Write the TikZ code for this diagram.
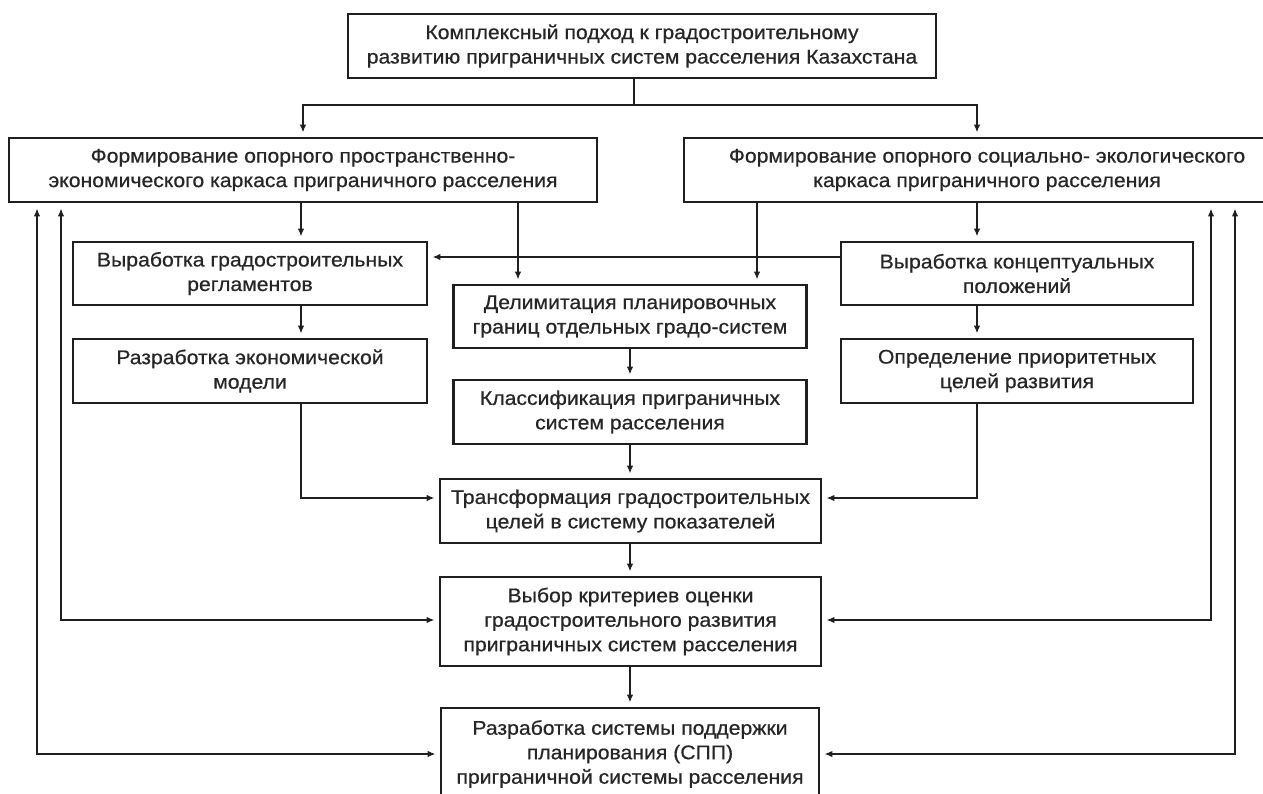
\documentclass[tikz,border=0pt]{standalone}
\usepackage{fontspec}
\setmainfont{Liberation Sans}[FakeStretch=1.07,FakeBold=0.6]
\usetikzlibrary{arrows.meta,calc}
\begin{document}
\begin{tikzpicture}[x=1pt,y=-1pt,
 box/.style={draw=black!88,line width=2.8pt,inner sep=0pt,align=center,
   font=\fontsize{19.8}{24.5}\selectfont,text=black!85},
 plain/.style={line width=2.3pt,draw=black!88},
 conn/.style={plain,-{Latex[length=8pt,width=6.5pt]},shorten >=4pt},
 fb/.style={plain,{Latex[length=8pt,width=6.5pt]}-{Latex[length=8pt,width=6.5pt]},shorten >=4pt,shorten <=5pt}]
\useasboundingbox (0,0) rectangle (1263,793);
\clip (0,0) rectangle (1263,793);
% boxes
\node[box,minimum width=588,minimum height=64] (top) at (642,46)
  {Комплексный подход к градостроительному\\развитию приграничных систем расселения Казахстана};
\node[box,minimum width=588,minimum height=64] (L1) at (303,170)
  {Формирование опорного пространственно-\\экономического каркаса приграничного расселения};
\node[box,minimum width=606,minimum height=64] (R1) at (987,170)
  {Формирование опорного социально- экологического\\каркаса приграничного расселения};
\node[box,minimum width=354,minimum height=63] (L2) at (250,273.5)
  {Выработка градостроительных\\регламентов};
\node[box,minimum width=354,minimum height=64] (L3) at (250,371)
  {Разработка экономической\\модели};
\node[box,minimum width=353,minimum height=63] (M1) at (630,316.5)
  {Делимитация планировочных\\границ отдельных градо-систем};
\node[box,minimum width=353,minimum height=64] (M2) at (630,412)
  {Классификация приграничных\\систем расселения};
\node[box,minimum width=352,minimum height=63] (R2) at (1017,273.5)
  {Выработка концептуальных\\положений};
\node[box,minimum width=352,minimum height=64] (R3) at (1017,371)
  {Определение приоритетных\\целей развития};
\node[box,minimum width=381,minimum height=64] (T) at (630.5,511)
  {Трансформация градостроительных\\целей в систему показателей};
\node[box,minimum width=381,minimum height=89] (V) at (630.5,621.5)
  {Выбор критериев оценки\\градостроительного развития\\приграничных систем расселения};
\node[box,minimum width=378,minimum height=92] (S) at (630,754)
  {Разработка системы поддержки\\планирования (СПП)\\приграничной системы расселения};
% helper coordinates
\coordinate (ja) at (634,105);
\coordinate (xA) at (301,0);
\coordinate (xB) at (518,0);
\coordinate (xC) at (757,0);
\coordinate (xD) at (977,0);
\coordinate (xM) at (630,0);
\coordinate (f1) at (37,0);
\coordinate (f2) at (61,0);
\coordinate (f3) at (1211,0);
\coordinate (f4) at (1235,0);
\coordinate (yh) at (0,257);
\coordinate (yt) at (0,498);
\coordinate (yv) at (0,620);
\coordinate (ys) at (0,754);
% connectors
\draw[plain] (top.south -| ja) -- (ja);
\draw[conn] (ja) -| (L1.north);
\draw[conn] (ja) -| (R1.north -| xD);
\draw[conn] (L1.south -| xA) -- (L2.north -| xA);
\draw[conn] (L1.south -| xB) -- (M1.north -| xB);
\draw[conn] (R1.south -| xC) -- (M1.north -| xC);
\draw[conn] (R1.south -| xD) -- (R2.north -| xD);
\draw[conn] (R2.west |- yh) -- (L2.east |- yh);
\draw[conn] (L2.south -| xA) -- (L3.north -| xA);
\draw[conn] (R2.south -| xD) -- (R3.north -| xD);
\draw[conn] (L3.south -| xA) |- (T.west |- yt);
\draw[conn] (R3.south -| xD) |- (T.east |- yt);
\draw[conn] (M1.south -| xM) -- (M2.north -| xM);
\draw[conn] (M2.south -| xM) -- (T.north -| xM);
\draw[conn] (T.south -| xM) -- (V.north -| xM);
\draw[conn] (V.south -| xM) -- (S.north -| xM);
\draw[fb] (L1.south -| f2) |- (V.west |- yv);
\draw[fb] (L1.south -| f1) |- (S.west |- ys);
\draw[fb] (R1.south -| f3) |- (V.east |- yv);
\draw[fb] (R1.south -| f4) |- (S.east |- ys);
\end{tikzpicture}
\end{document}
